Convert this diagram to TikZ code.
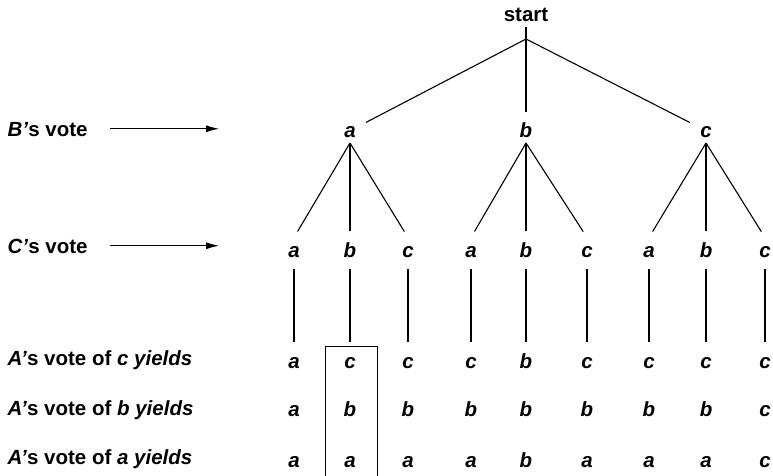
\documentclass[tikz,border=0pt]{standalone}
\usepackage{fontspec}
\setmainfont{Liberation Sans}
\usetikzlibrary{arrows.meta}

\begin{document}
\begin{tikzpicture}[x=1pt,y=-1pt,line width=1.1pt,
        vote/.style={font=\fontsize{20.5}{24}\selectfont\bfseries\itshape,
            inner sep=0, outer sep=5pt, text height=14.5pt, text depth=0pt, anchor=base},
        rowlabel/.style={font=\fontsize{20.5}{24}\selectfont\bfseries,
            inner sep=0, text height=14.5pt, text depth=0pt, anchor=base west}]

        % Fix the margins
        \useasboundingbox (0,0) rectangle (773,476);

        % Root
        \node[vote, font=\fontsize{20.5}{24}\selectfont\bfseries] (start) at (526,22) {start};
        \coordinate (split) at (526,39);
        \draw (start) -- (split);

        % B's vote
        \foreach \v/\x in {a/350, b/526, c/706} {
            \node[vote] (b-\v) at (\x,138) {\v};
            \draw[shorten >=6pt] (split) -- (b-\v);
        }

        % C's vote and the outcomes of A's vote
        \foreach [count=\i] \x/\p/\v/\r/\s/\t in {
            294/a/a/a/a/a,
            350/a/b/c/b/a,
            408/a/c/c/b/a,
            471/b/a/c/b/a,
            526/b/b/b/b/b,
            587/b/c/c/b/a,
            649/c/a/c/b/a,
            706/c/b/c/b/a,
            765/c/c/c/c/c
        } {
            \node[vote] (c\i) at (\x,257) {\v};
            \draw[shorten >=7pt] (b-\p.south) -- (c\i.north);
            % Outcomes
            \node[vote] (r\i-1) at (\x,368) {\r};
            \node[vote] (r\i-2) at (\x,416) {\s};
            \node[vote] (r\i-3) at (\x,467) {\t};
            \draw[shorten <=7pt, shorten >=7pt] (c\i) -- (r\i-1);
        }

        % Row labels
        \node[rowlabel] (blab) at (7,136) {\textit{B’}s vote};
        \node[rowlabel] (clab) at (7,253) {\textit{C’}s vote};
        \coordinate (barrow) at ([xshift=131pt]blab.east);
        \coordinate (carrow) at ([xshift=131pt]clab.east);
        \draw[-{Latex[length=13pt,width=7pt]}, shorten <=22pt] (blab.east) -- (barrow);
        \draw[-{Latex[length=13pt,width=7pt]}, shorten <=22pt] (clab.east) -- (carrow);

        \node[rowlabel] (alab1) at (7,365) {\textit{A’}s vote of \textit{c yields}};
        \node[rowlabel] (alab2) at (7,415) {\textit{A’}s vote of \textit{b yields}};
        \node[rowlabel] (alab3) at (7,464) {\textit{A’}s vote of \textit{a yields}};

        % Box round the second column
        \draw[line width=1pt] (325,476) |- (377,346) -- (377,476);

    \end{tikzpicture}
\end{document}
